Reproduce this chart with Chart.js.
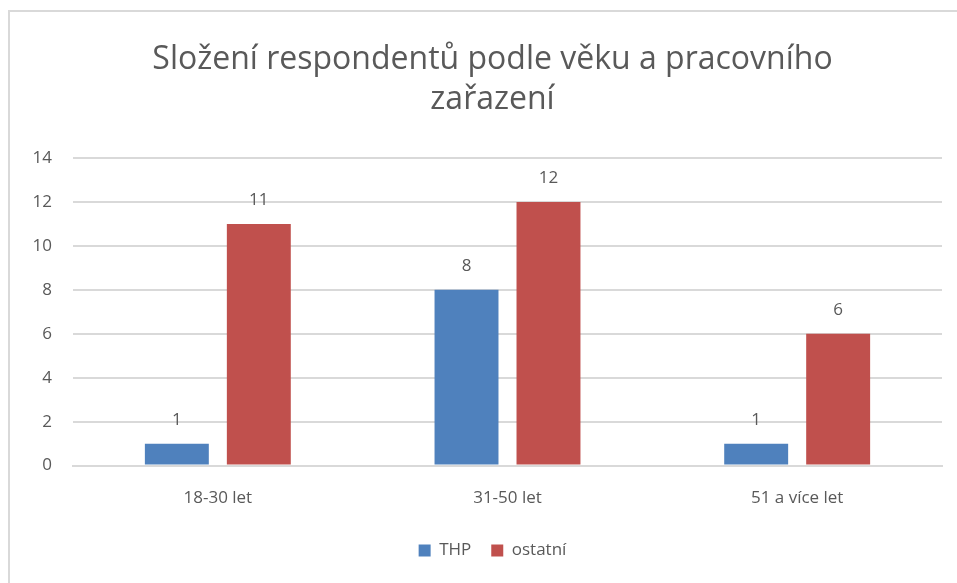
<!DOCTYPE html>
<html>
<head>
<meta charset="utf-8">
<script src="https://cdn.jsdelivr.net/npm/chart.js@4"></script>
<style>
  html, body { margin: 0; padding: 0; background: #ffffff; overflow: hidden; }
  #frame {
    position: absolute; left: 8px; top: 10px; width: 960px; height: 600px;
    border-top: 2px solid #d9d9d9; border-left: 2px solid #d9d9d9;
  }
  #wrap { position: absolute; left: 0; top: 0; width: 957px; height: 583px; }
</style>
</head>
<body>
<div id="frame"></div>
<div id="wrap"><canvas id="chart"></canvas></div>
<script>
const categories = ["18-30 let", "31-50 let", "51 a více let"];
const thpValues = [1, 8, 1];
const otherValues = [11, 12, 6];
const seriesNames = ["THP", "ostatní"];
const titleLines = ["Složení respondentů podle věku a pracovního", "zařazení"];

const FONT = "'Open Sans', sans-serif";
const GRAY = "#595959";

// draws the value above every bar, positions come from the bar elements
const valueLabels = {
  id: "valueLabels",
  afterDatasetsDraw(chart) {
    const ctx = chart.ctx;
    ctx.save();
    ctx.font = "17px " + FONT;
    ctx.fillStyle = GRAY;
    ctx.textAlign = "center";
    ctx.textBaseline = "bottom";
    chart.data.datasets.forEach((ds, i) => {
      chart.getDatasetMeta(i).data.forEach((bar, j) => {
        ctx.fillText(ds.data[j], bar.x, bar.y - 15);
      });
    });
    ctx.restore();
  },
};

// title and legend sit a bit right of the canvas centre in the original
const nudgeHeader = {
  id: "nudgeHeader",
  afterLayout(chart) {
    const dx = 15;
    [chart.titleBlock, chart.legend].forEach((box) => {
      if (box) { box.left += dx; box.right += dx; }
    });
  },
};

const ctx = document.getElementById("chart").getContext("2d");
new Chart(ctx, {
  type: "bar",
  data: {
    labels: categories,
    datasets: [
      {
        label: seriesNames[0],
        data: thpValues,
        backgroundColor: "#4f81bd",
        categoryPercentage: 0.566,
        barPercentage: 0.78,
      },
      {
        label: seriesNames[1],
        data: otherValues,
        backgroundColor: "#c0504d",
        categoryPercentage: 0.566,
        barPercentage: 0.78,
      },
    ],
  },
  options: {
    responsive: true,
    maintainAspectRatio: false,
    animation: false,
    layout: { padding: { left: 13, right: 15, top: 40, bottom: 14 } },
    plugins: {
      title: {
        display: true,
        text: titleLines,
        font: { size: 32, family: FONT, weight: "normal", lineHeight: 1.25 },
        color: GRAY,
        padding: { top: 0, bottom: 38 },
      },
      legend: {
        position: "bottom",
        labels: {
          font: { size: 17, family: FONT },
          color: GRAY,
          boxWidth: 12,
          boxHeight: 12,
          padding: 20,
        },
      },
      tooltip: { enabled: false },
    },
    scales: {
      x: {
        grid: { display: false },
        border: { color: "#d9d9d9", width: 2 },
        ticks: { font: { size: 17, family: FONT }, color: GRAY, padding: 14 },
      },
      y: {
        min: 0,
        max: 14,
        afterFit(axis) { axis.width = 60; },
        ticks: { stepSize: 2, font: { size: 17, family: FONT }, color: GRAY, padding: 21 },
        grid: { color: "#d9d9d9", lineWidth: 2, drawTicks: false },
        border: { display: false },
      },
    },
  },
  plugins: [valueLabels, nudgeHeader],
});
</script>
</body>
</html>
